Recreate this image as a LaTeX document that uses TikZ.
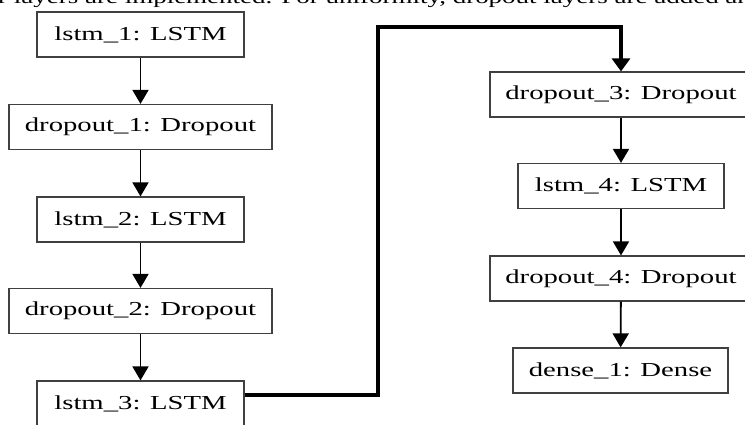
\documentclass[tikz,border=0pt]{standalone}
\usepackage{fontspec}
\usetikzlibrary{arrows.meta,calc}
\newfontfamily\boxfont[FakeStretch=1.45]{Liberation Serif}
\newfontfamily\bodyfont[FakeStretch=1.42]{Liberation Serif}
\tikzset{
  layer/.style={draw=black!75, line width=1.2pt, fill=white, inner sep=0pt,
    minimum height=45pt, align=center,
    font=\boxfont\fontsize{19.8}{22}\selectfont},
  lstmbox/.style={layer, minimum width=207pt},
  dropbox/.style={layer, minimum width=263pt},
  densebox/.style={layer, minimum width=215pt},
  flow/.style={draw=black, line width=1.8pt,
    -{Triangle[width=16pt,length=14pt]}},
  bridge/.style={draw=black, line width=4pt, line join=miter,
    -{Triangle[width=18pt,length=13pt]}}
}
\begin{document}
\begin{tikzpicture}[x=1pt,y=-1pt]
  \useasboundingbox (0,0) rectangle (745,425);
  \clip (0,0) rectangle (745,425);

  % line of running text above the figure
  \node[anchor=base west, inner sep=0pt,
        font=\bodyfont\fontsize{19}{22}\selectfont] (caption) at (-2,4)
    {r layers are implemented. For uniformity, dropout layers are added an};

  % left column
  \node[lstmbox] (lstm1) at (140.5,34.5) {lstm\_1: LSTM};
  \node[dropbox] (drop1) at (140.5,127) {dropout\_1: Dropout};
  \node[lstmbox] (lstm2) at (140.5,219.5) {lstm\_2: LSTM};
  \node[dropbox] (drop2) at (140.5,311) {dropout\_2: Dropout};
  \node[lstmbox, minimum height=46pt] (lstm3) at (140.5,404) {lstm\_3: LSTM};

  % right column
  \node[dropbox, minimum width=262pt] (drop3) at (621,94.5) {dropout\_3: Dropout};
  \node[lstmbox, minimum width=206pt] (lstm4) at (621,186) {lstm\_4: LSTM};
  \node[dropbox, minimum width=262pt] (drop4) at (621,278.5) {dropout\_4: Dropout};
  \node[densebox] (dense1) at (620.5,370.5) {dense\_1: Dense};

  % connectors
  \draw[flow] (lstm1) -- (drop1);
  \draw[flow] (drop1) -- (lstm2);
  \draw[flow] (lstm2) -- (drop2);
  \draw[flow] (drop2) -- (lstm3);

  \coordinate (turn) at (378,27);
  \draw[bridge] ([yshift=9pt]lstm3.east) -| (turn) -| (drop3.north);

  \draw[flow] (drop3) -- (lstm4);
  \draw[flow] (lstm4) -- (drop4);
  \draw[flow] (drop4) -- (dense1);
\end{tikzpicture}
\end{document}
